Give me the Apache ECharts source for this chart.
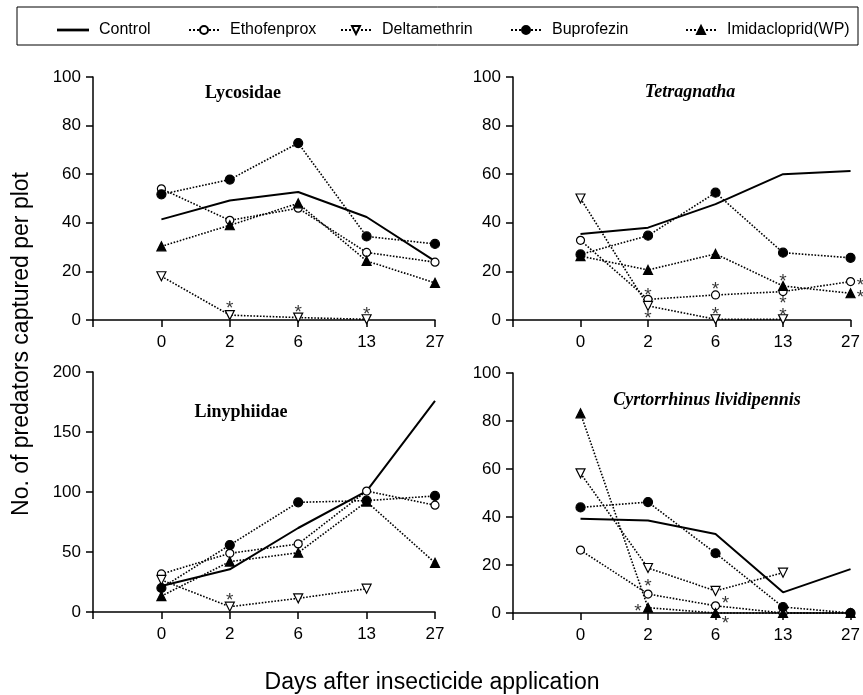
<!DOCTYPE html>
<html><head><meta charset="utf-8">
<script src="https://cdn.jsdelivr.net/npm/echarts@6/dist/echarts.min.js"></script>
<style>html,body{margin:0;padding:0;background:#fff}#c{width:863px;height:695px}</style>
</head><body><div id="c"></div>
<script>
const days = ['', '0', '2', '6', '13', '27'];
const treatments = ['Control', 'Ethofenprox', 'Deltamethrin', 'Buprofezin', 'Imidacloprid(WP)'];
const panelTitles = ['Lycosidae', 'Tetragnatha', 'Linyphiidae', 'Cyrtorrhinus lividipennis'];

// Lycosidae
const lycoControl = [41.4, 49.2, 52.7, 42.4, 24.2];
const lycoEtho    = [54, 41, 46, 27.8, 23.8];
const lycoDelta   = [18, 2, 1, 0.3, null];
const lycoBupro   = [51.7, 57.8, 72.8, 34.4, 31.3];
const lycoImida   = [30.3, 39, 48, 24.3, 15.3];
const lycoStars   = [['2', 6.2], ['6', 4.5], ['13', 3.7]];

// Tetragnatha
const tetraControl = [35.4, 38, 47.7, 60, 61.3];
const tetraEtho    = [32.8, 8.5, 10.3, 11.7, 15.8];
const tetraDelta   = [50, 5.8, 0.3, 0.3, null];
const tetraBupro   = [27, 34.7, 52.4, 27.7, 25.6];
const tetraImida   = [26.3, 20.6, 27.2, 14, 11];
const tetraStars   = [['2', 11.6], ['2', 2], ['6', 14], ['6', 3.7], ['13', 17.5], ['13', 8.2], ['13', 3.4]];
const tetraStarsRight = [['27', 15.8], ['27', 11]];

// Linyphiidae
const linyControl = [21.7, 35.6, 70, 100.8, 176];
const linyEtho    = [31.7, 48.9, 56.7, 100.8, 89];
const linyDelta   = [26.7, 4.4, 11.4, 19.4, null];
const linyBupro   = [20, 55.8, 91.4, 92.8, 96.7];
const linyImida   = [13.3, 42, 49.4, 92, 41];
const linyStars   = [['2', 12.8]];

// Cyrtorrhinus lividipennis
const cyrtControl = [39.3, 38.5, 32.9, 8.6, 18.3];
const cyrtEtho    = [26.2, 7.9, 3, 0, 0];
const cyrtDelta   = [58.2, 18.75, 9.2, 16.8, null];
const cyrtBupro   = [44, 46.2, 24.9, 2.5, 0];
const cyrtImida   = [83.2, 2.2, 0, 0, 0];
const cyrtStars   = [['2', 12.5]];
const cyrtStarsLeft = [['2', 2.2]];
const cyrtStarsRight = [['6', 5.4], ['6', -2.9]];

const yMax = [100, 100, 200, 100];
const yInt = [20, 20, 50, 20];
const grids = [
  {left: 93, top: 77, width: 342, height: 243},
  {left: 513, top: 77, width: 340, height: 243},
  {left: 93, top: 372, width: 342, height: 240},
  {left: 513, top: 373, width: 339, height: 240}
];
const panelData = [
  [lycoControl, lycoEtho, lycoDelta, lycoBupro, lycoImida],
  [tetraControl, tetraEtho, tetraDelta, tetraBupro, tetraImida],
  [linyControl, linyEtho, linyDelta, linyBupro, linyImida],
  [cyrtControl, cyrtEtho, cyrtDelta, cyrtBupro, cyrtImida]
];
const starSets = [
  [lycoStars, [], []],
  [tetraStars, [], tetraStarsRight],
  [linyStars, [], []],
  [cyrtStars, cyrtStarsLeft, cyrtStarsRight]
];
const titlePos = [[243, 93], [690, 92], [241, 412], [707, 400]];
const titleItalic = [false, true, false, true];
const legendLeft = [52, 183, 335, 505, 680];

const styleFor = [
  {symbol: 'none', size: 0, fill: '#000', rotate: 0, type: 'solid', width: 2},
  {symbol: 'circle', size: 8, fill: '#fff', rotate: 0, type: 'dotted', width: 1.6},
  {symbol: 'triangle', size: 9, fill: '#fff', rotate: 180, type: 'dotted', width: 1.6},
  {symbol: 'circle', size: 9, fill: '#000', rotate: 0, type: 'dotted', width: 1.6},
  {symbol: 'triangle', size: 9, fill: '#000', rotate: 0, type: 'dotted', width: 1.6}
];

const FONT = 'Liberation Sans, Arial, sans-serif';
const xAxes = [], yAxes = [], series = [], graphics = [];
grids.forEach((g, i) => {
  xAxes.push({
    type: 'category', gridIndex: i, data: days, boundaryGap: false,
    axisLine: {lineStyle: {color: '#000', width: 1.5}},
    axisTick: {show: true, length: 7, lineStyle: {color: '#000', width: 1.5}, interval: 0},
    axisLabel: {color: '#000', fontSize: 17, fontFamily: FONT, margin: 14, interval: 0},
    splitLine: {show: false}
  });
  yAxes.push({
    type: 'value', gridIndex: i, min: 0, max: yMax[i], interval: yInt[i],
    axisLine: {show: true, lineStyle: {color: '#000', width: 1.5}},
    axisTick: {show: true, length: 7, lineStyle: {color: '#000', width: 1.5}},
    axisLabel: {color: '#000', fontSize: 17, fontFamily: FONT, margin: 12},
    splitLine: {show: false}
  });
  panelData[i].forEach((arr, k) => {
    const s = styleFor[k];
    series.push({
      name: treatments[k], type: 'line', xAxisIndex: i, yAxisIndex: i,
      data: [null].concat(arr), connectNulls: false,
      symbol: s.symbol, symbolSize: s.size, symbolRotate: s.rotate, showSymbol: s.symbol !== 'none',
      lineStyle: {color: '#000', width: s.width, type: s.type},
      itemStyle: {color: s.fill, borderColor: '#000', borderWidth: 1.2},
      emphasis: {disabled: true}, animation: false, clip: false,
      z: k === 0 ? 2 : 3
    });
  });
  const offs = [[0, 4], [-10, 4], [10, 4]];
  starSets[i].forEach((set, j) => {
    if (!set.length) return;
    series.push({
      type: 'scatter', xAxisIndex: i, yAxisIndex: i, data: set,
      symbolSize: 1, itemStyle: {color: 'rgba(0,0,0,0)'}, clip: false, silent: true,
      label: {show: true, formatter: '*', position: 'inside', offset: offs[j],
        color: '#000', fontSize: 19, fontFamily: FONT},
      animation: false, z: 5
    });
  });
  graphics.push({
    type: 'text', x: titlePos[i][0], y: titlePos[i][1],
    style: {text: panelTitles[i], textAlign: 'center', textVerticalAlign: 'middle',
      font: (titleItalic[i] ? 'italic ' : '') + 'bold 18px "Liberation Serif", "Times New Roman", serif', fill: '#000'}
  });
});

graphics.push({type: 'rect', shape: {x: 17, y: 7, width: 841, height: 38},
  style: {fill: 'none', stroke: '#000', lineWidth: 1}});
graphics.push({type: 'text', x: 22, y: 344, rotation: Math.PI / 2,
  style: {text: 'No. of predators captured per plot', textAlign: 'center', textVerticalAlign: 'middle',
    font: '23px "Liberation Sans", Arial, sans-serif', fill: '#000'}});
graphics.push({type: 'text', x: 432, y: 683,
  style: {text: 'Days after insecticide application', textAlign: 'center', textVerticalAlign: 'middle',
    font: '23px "Liberation Sans", Arial, sans-serif', fill: '#000'}});

const legends = treatments.map((n, k) => ({
  data: [k === 0 ? {name: n, icon: 'path://M0,0H40V1H0Z'} : {name: n}],
  left: legendLeft[k], top: 17, itemWidth: 30, itemHeight: 10,
  textStyle: {color: '#000', fontSize: 16, fontFamily: FONT, padding: [0, 0, 0, 6]},
  selectedMode: false
}));

const chart = echarts.init(document.getElementById('c'), null, {renderer: 'canvas'});
chart.setOption({
  animation: false,
  backgroundColor: '#fff',
  grid: grids,
  xAxis: xAxes,
  yAxis: yAxes,
  legend: legends,
  graphic: graphics,
  series: series
});
</script>
</body></html>
